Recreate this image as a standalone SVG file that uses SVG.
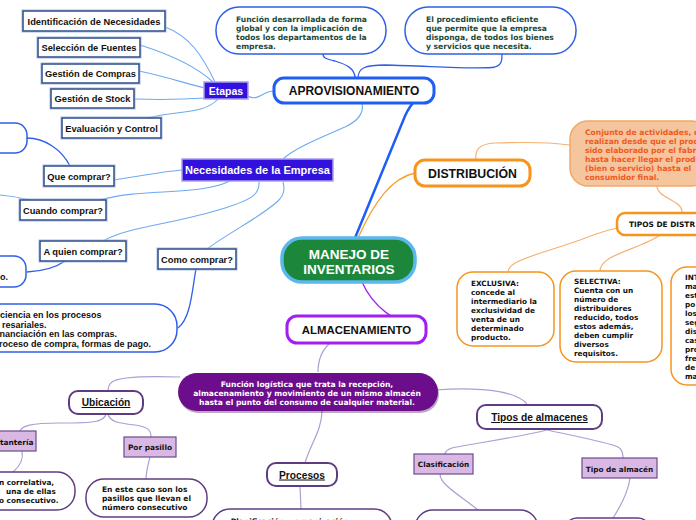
<svg xmlns="http://www.w3.org/2000/svg" width="696" height="520" viewBox="0 0 696 520">
<style>
.lb{font-family:"Liberation Sans",Arial,sans-serif;font-weight:bold;fill:#111}
.sm{font-family:"DejaVu Sans",Verdana,sans-serif;font-weight:bold}
.c{text-anchor:middle}
.box{fill:#fff;stroke:#2c4c88;stroke-width:1.5}
.boxsh{fill:none;stroke:#a9bcdc;stroke-width:1}
.pb{fill:#3311dd;stroke:#a99ff0;stroke-width:1.5}
.bb{fill:#fff;stroke:#2f5fe6;stroke-width:1.5}
.ob{fill:#fff;stroke:#f7941d;stroke-width:1.5}
.vb{fill:#fff;stroke:#5e3c82;stroke-width:2}
.vs{fill:#fff;stroke:#5e3c82;stroke-width:1.5}
.lp{fill:#dab8e4;stroke:#6b4b8d;stroke-width:1.2}
.lblue{fill:none;stroke:#6eaaf0;stroke-width:1.1}
.dblue{fill:none;stroke:#2f5fe6;stroke-width:1.3}
.lor{fill:none;stroke:#f6b173;stroke-width:1.2}
.lvi{fill:none;stroke:#ab9fd4;stroke-width:1.2}
.u{text-decoration:underline}
</style>
<rect x="0" y="0" width="696" height="520" fill="#fff"/>

<g id="connectors">
  <path class="lblue" d="M165,27 C190,36 203,57 215,82"/>
  <path class="lblue" d="M140,45 C178,57 200,70 213,82"/>
  <path class="lblue" d="M139,71 C172,78 190,85 205,88"/>
  <path class="lblue" d="M134,99 C165,100 190,99 205,98"/>
  <path class="lblue" d="M147,118 C180,110 205,114 218,99"/>
  <path class="lblue" d="M248,96 C258,102 262,91 274,91"/>
  <path class="dblue" d="M355,78 C355,68 345,64 335,61 C326,59 323,58 323,54"/>
  <path class="dblue" d="M358,78 C358,68 365,65 385,65 C430,66 480,70 495,67 C502,65 502,60 502,54"/>
  <path class="lblue" d="M362,103 C364,112 360,120 345,127 C320,138 295,148 283,159"/>
  <path class="lblue" d="M114,180 C140,176 160,172 182,170"/>
  <path class="lblue" d="M100,200 C140,188 200,196 230,181"/>
  <path class="lblue" d="M103,241 C130,226 175,224 225,208 C250,200 260,195 259,182"/>
  <path class="lblue" d="M207,249 C230,232 262,216 278,201 C286,193 284,186 283,182"/>
  <path class="dblue" d="M27,138 C45,138 62,150 70,166"/>
  <path class="lblue" d="M0,195 C12,196 22,198 30,200"/>
  <path class="dblue" d="M27,272 C45,271 58,266 65,261"/>
  <path class="dblue" d="M196,269 C192,290 191,318 178,328"/>
  <path fill="none" stroke="#1f5ef5" stroke-width="2.5" d="M355,238 L405,116 C412,100 424,93 434,91"/>
  <path fill="none" stroke="#f7a030" stroke-width="1.3" d="M358,238 C375,200 392,178 415,173"/>
  <path class="lor" d="M476,160 C475,150 478,144 495,143 C525,142 555,143 570,145"/>
  <path class="lor" d="M657,186 C657,198 682,200 682,212"/>
  <path class="lor" d="M617,228 C600,232 590,236 580,240 C555,249 530,255 515,263 C509,267 508,270 508,272"/>
  <path class="lor" d="M660,235 C650,243 625,250 610,258 C602,263 600,267 600,271"/>
  <path fill="none" stroke="#a020f0" stroke-width="1.3" d="M362,282 C372,305 395,325 426,329"/>
  <path class="lvi" d="M330,343 C322,350 318,360 318,372"/>
  <path class="lvi" d="M180,377 C150,376 120,376 112,382 C108,385 108,388 108,391"/>
  <path class="lvi" d="M436,390 C470,387 500,390 515,396 C524,400 527,403 527,405"/>
  <path class="lvi" d="M322,411 C322,430 310,445 305,463"/>
  <path class="lvi" d="M106,414 C104,422 95,423 60,423 C30,423 22,426 20,431"/>
  <path class="lvi" d="M108,414 C110,422 118,423 135,425 C148,427 151,430 151,437"/>
  <path class="lvi" d="M22,451 C24,460 20,466 13,472"/>
  <path class="lvi" d="M150,457 C148,465 146,472 146,479"/>
  <path class="lvi" d="M300,486 L301,509"/>
  <path class="lvi" d="M547,430 C520,437 470,444 452,448 C446,450 445,452 445,454"/>
  <path class="lvi" d="M547,430 C575,436 610,443 618,447 C622,449 623,452 623,458"/>
  <path class="lvi" d="M440,474 C440,485 460,495 478,510"/>
  <path class="lvi" d="M630,478 C628,495 618,510 613,518"/>
</g>

<g id="n-identificacion"><rect class="boxsh" x="22" y="10" width="144" height="22"/><rect class="box" x="23" y="11" width="142" height="20"/><text class="lb c" x="94" y="24.5" font-size="9.3">Identificación de Necesidades</text></g>
<g id="n-seleccion"><rect class="boxsh" x="37" y="37" width="104" height="21"/><rect class="box" x="38" y="38" width="102" height="19"/><text class="lb c" x="89" y="51" font-size="9.3">Selección de Fuentes</text></g>
<g id="n-compras"><rect class="boxsh" x="41" y="63" width="99" height="21"/><rect class="box" x="42" y="64" width="97" height="19"/><text class="lb c" x="90.5" y="77" font-size="9.3">Gestión de Compras</text></g>
<g id="n-stock"><rect class="boxsh" x="50" y="88" width="85" height="21"/><rect class="box" x="51" y="89" width="83" height="19"/><text class="lb c" x="92.5" y="102" font-size="9.3">Gestión de Stock</text></g>
<g id="n-evaluacion"><rect class="boxsh" x="61" y="117" width="101" height="22"/><rect class="box" x="62" y="118" width="99" height="20"/><text class="lb c" x="111.5" y="131.5" font-size="9.3">Evaluación y Control</text></g>

<g id="n-etapas"><rect class="pb" x="204" y="82" width="44" height="17"/><text class="lb c" x="226" y="94.5" font-size="10.5" fill="#fff" style="fill:#fff">Etapas</text></g>

<g id="n-blob1"><rect class="bb" x="216" y="7" width="170" height="47" rx="23"/>
<text class="sm" font-size="7.6" fill="#1b4a38"><tspan x="236" y="21.5">Función desarrollada de forma</tspan><tspan x="236" y="30.5">global y con la implicación de</tspan><tspan x="236" y="39.5">todos los departamentos de la</tspan><tspan x="236" y="48.5">empresa.</tspan></text></g>
<g id="n-blob2"><rect class="bb" x="405" y="7" width="171" height="47" rx="23"/>
<text class="sm" font-size="7.6" fill="#1b4a38"><tspan x="426" y="21.5">El procedimiento eficiente</tspan><tspan x="426" y="30.5">que permite que la empresa</tspan><tspan x="426" y="39.5">disponga, de todos los bienes</tspan><tspan x="426" y="48.5">y servicios que necesita.</tspan></text></g>

<g id="n-aprovisionamiento"><rect x="274" y="78" width="160" height="25" rx="10" fill="#fff" stroke="#1f5ef5" stroke-width="3"/><text class="lb c" x="354" y="95" font-size="12">APROVISIONAMIENTO</text></g>

<g id="n-necesidades"><rect class="pb" x="182" y="159" width="151" height="22"/><text class="lb c" x="257.5" y="174" font-size="11" style="fill:#fff">Necesidades de la Empresa</text></g>

<g id="n-que"><rect class="boxsh" x="43" y="165" width="72" height="22"/><rect class="box" x="44" y="166" width="70" height="20"/><text class="lb c" x="79" y="179.5" font-size="9.3">Que comprar?</text></g>
<g id="n-cuando"><rect class="boxsh" x="19" y="199" width="88" height="22"/><rect class="box" x="20" y="200" width="86" height="20"/><text class="lb c" x="63" y="213.5" font-size="9.3">Cuando comprar?</text></g>
<g id="n-aquien"><rect class="boxsh" x="39" y="240" width="88" height="22"/><rect class="box" x="40" y="241" width="86" height="20"/><text class="lb c" x="83" y="254.5" font-size="9.3">A quien comprar?</text></g>
<g id="n-como"><rect class="boxsh" x="157" y="248" width="80" height="22"/><rect class="box" x="158" y="249" width="78" height="20"/><text class="lb c" x="197" y="262.5" font-size="9.3">Como comprar?</text></g>

<g id="n-left1"><rect class="bb" x="-30" y="123" width="57" height="30" rx="12"/></g>
<g id="n-left2"><rect class="bb" x="-30" y="256" width="56" height="31" rx="12"/><text class="lb" x="0" y="280" font-size="9">o.</text></g>
<g id="n-left3"><rect class="bb" x="-30" y="304" width="207" height="48" rx="22"/>
<text class="lb" font-size="9"><tspan x="0" y="318">ciencia en los procesos</tspan><tspan x="2" y="327.5">resariales.</tspan><tspan x="-0.5" y="337">nanciación en las compras.</tspan><tspan x="-1" y="347">roceso de compra, formas de pago.</tspan></text></g>

<g id="n-manejo"><rect x="282" y="238" width="133" height="44" rx="20" fill="#1c873a" stroke="#5ab8ec" stroke-width="3.5"/><text class="lb c" font-size="13.5" style="fill:#fff"><tspan x="349" y="258.5">MANEJO DE</tspan><tspan x="349" y="273.5">INVENTARIOS</tspan></text></g>

<g id="n-distribucion"><rect x="415" y="160" width="115" height="26" rx="10" fill="#fff" stroke="#f7941d" stroke-width="3"/><text class="lb c" x="472.5" y="177.5" font-size="12.3">DISTRIBUCIÓN</text></g>

<g id="n-orangeblob"><rect x="570" y="121" width="140" height="65" rx="18" fill="#f5c59d" stroke="#f0a868" stroke-width="1.5"/>
<text class="sm" font-size="7.6" fill="#f05a22"><tspan x="585" y="135">Conjunto de actividades, q</tspan><tspan x="585" y="144">realizan desde que el prod</tspan><tspan x="585" y="153">sido elaborado por el fabri</tspan><tspan x="585" y="162">hasta hacer llegar el produ</tspan><tspan x="585" y="171">(bien o servicio) hasta el</tspan><tspan x="585" y="180">consumidor final.</tspan></text></g>

<g id="n-tipos-dist"><rect x="617" y="213" width="100" height="22" rx="8" fill="#fff" stroke="#f7941d" stroke-width="2.5"/><text class="sm" x="629" y="227" font-size="7.4" fill="#111">TIPOS DE DISTR</text></g>

<g id="n-exclusiva"><rect class="ob" x="457" y="272" width="97" height="74" rx="16"/>
<text class="sm" font-size="7.3" fill="#111"><tspan x="471" y="286">EXCLUSIVA:</tspan><tspan x="471" y="295">concede al</tspan><tspan x="471" y="304">intermediario la</tspan><tspan x="471" y="313">exclusividad de</tspan><tspan x="471" y="322">venta de un</tspan><tspan x="471" y="331">determinado</tspan><tspan x="471" y="340">producto.</tspan></text></g>
<g id="n-selectiva"><rect class="ob" x="560" y="271" width="102" height="91" rx="16"/>
<text class="sm" font-size="7.3" fill="#111"><tspan x="574" y="283.5">SELECTIVA:</tspan><tspan x="574" y="292.5">Cuenta con un</tspan><tspan x="574" y="301.5">número de</tspan><tspan x="574" y="310.5">distribuidores</tspan><tspan x="574" y="319.5">reducido, todos</tspan><tspan x="574" y="328.5">estos además,</tspan><tspan x="574" y="337.5">deben cumplir</tspan><tspan x="574" y="346.5">diversos</tspan><tspan x="574" y="355.5">requisitos.</tspan></text></g>
<g id="n-intensiva"><rect class="ob" x="671" y="267" width="60" height="118" rx="16"/>
<text class="sm" font-size="7.3" fill="#111"><tspan x="685" y="280">INT</tspan><tspan x="685" y="289">ma</tspan><tspan x="685" y="298">est</tspan><tspan x="685" y="307">po</tspan><tspan x="685" y="316">los</tspan><tspan x="685" y="325">seg</tspan><tspan x="685" y="334">dis</tspan><tspan x="685" y="343">cas</tspan><tspan x="685" y="352">pro</tspan><tspan x="685" y="361">fre</tspan><tspan x="685" y="370">de</tspan><tspan x="685" y="379">ma</tspan></text></g>

<g id="n-almacenamiento"><rect x="287" y="316" width="139" height="27" rx="10" fill="#fff" stroke="#a11ff2" stroke-width="3"/><text class="lb c" x="356.5" y="334" font-size="11.4">ALMACENAMIENTO</text></g>

<g id="n-funcion"><rect x="179" y="375" width="260" height="38" rx="19" fill="#3a0650" opacity="0.35"/><rect x="178" y="373" width="260" height="38" rx="19" fill="#6c0d8c"/>
<text class="sm c" font-size="7.6" fill="#fff"><tspan x="307" y="387">Función logística que trata la recepción,</tspan><tspan x="307" y="396">almacenamiento y movimiento  de un mismo almacén</tspan><tspan x="307" y="405">hasta el punto del consumo de cualquier material.</tspan></text></g>

<g id="n-ubicacion"><rect class="vb" x="69" y="391" width="74" height="23" rx="9"/><text class="lb c u" x="106" y="406" font-size="10.2">Ubicación</text></g>
<g id="n-estanteria"><rect class="lp" x="-20" y="431" width="56" height="20"/><text class="sm" x="0" y="444.5" font-size="7.4" fill="#111">tantería</text></g>
<g id="n-porpasillo"><rect class="lp" x="124" y="437" width="52" height="20"/><text class="sm c" x="150" y="450" font-size="7.4" fill="#111">Por pasillo</text></g>
<g id="n-blob-est"><rect class="vs" x="-40" y="472" width="115" height="38" rx="18"/>
<text class="sm" font-size="7.3" fill="#111"><tspan x="-1" y="485">n correlativa,</tspan><tspan x="6" y="494">una de ellas</tspan><tspan x="-1" y="503">o consecutivo.</tspan></text></g>
<g id="n-blob-pas"><rect class="vs" x="86" y="479" width="121" height="38" rx="18"/>
<text class="sm" font-size="7.5" fill="#111"><tspan x="102" y="492">En este caso son los</tspan><tspan x="102" y="501">pasillos que llevan el</tspan><tspan x="102" y="510">número consecutivo</tspan></text></g>

<g id="n-procesos"><rect class="vb" x="267" y="463" width="70" height="23" rx="9"/><text class="lb c u" x="302" y="478.5" font-size="10.2">Procesos</text></g>
<g id="n-planificacion"><rect class="vs" x="212" y="509" width="180" height="40" rx="18"/><text class="sm" x="225" y="523.5" font-size="7.5" fill="#111">- Planificación y organización</text></g>

<g id="n-tipos-alm"><rect class="vb" x="477" y="405" width="125" height="24" rx="9"/><text class="lb c u" x="539.5" y="421" font-size="10.2">Tipos de almacenes</text></g>
<g id="n-clasificacion"><rect class="lp" x="414" y="454" width="59" height="20"/><text class="sm c" x="443.5" y="467" font-size="7.3" fill="#111">Clasificación</text></g>
<g id="n-tipo-alm"><rect class="lp" x="582" y="458" width="75" height="20"/><text class="sm c" x="619.5" y="471.5" font-size="7.3" fill="#111">Tipo de almacén</text></g>
<g id="n-blob-clas"><rect class="vs" x="415" y="510" width="123" height="40" rx="18"/></g>
<g id="n-blob-tipo"><rect class="vs" x="565" y="518" width="85" height="30" rx="12"/></g>
</svg>
